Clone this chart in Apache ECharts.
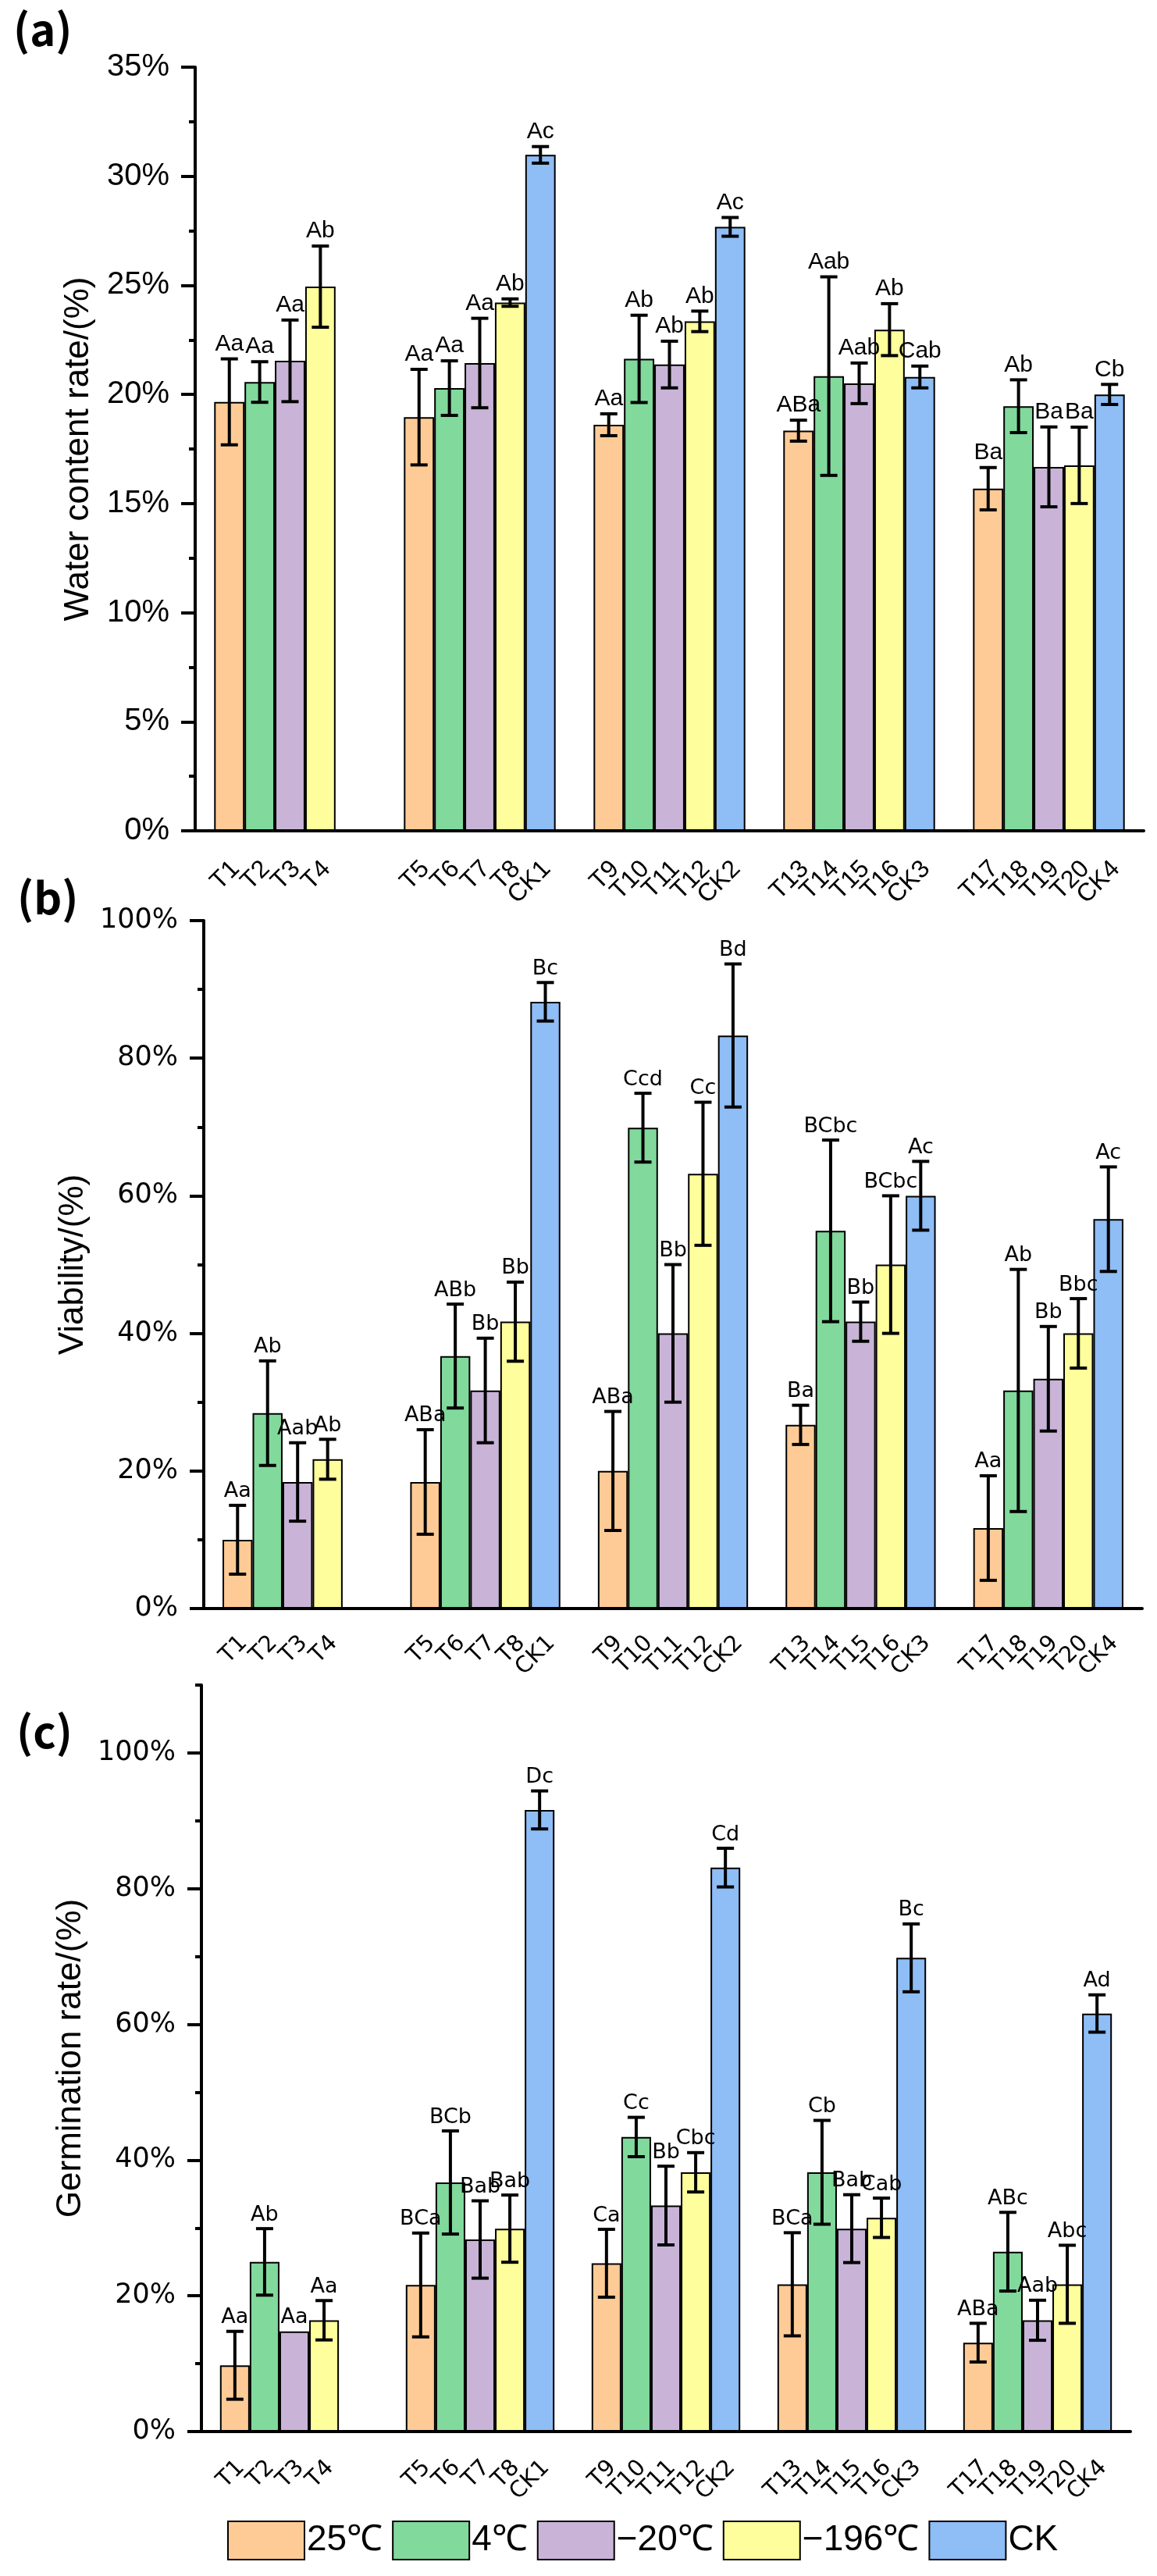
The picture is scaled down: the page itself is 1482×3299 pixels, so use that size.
<!DOCTYPE html>
<html>
<head>
<meta charset="utf-8">
<script src="https://cdn.jsdelivr.net/npm/echarts@6/dist/echarts.min.js"></script>
<style>
  html, body { margin: 0; padding: 0; background: #fff; }
  #chart { width: 1482px; height: 3299px; }
</style>
</head>
<body>
<div id="chart"></div>
<script>
// treatment series and group slots
const seriesNames = ['25℃', '4℃', '−20℃', '−196℃', 'CK'];
const groupNames = ['G1', 'G2', 'G3', 'G4', 'G5'];
// bar labels, rows = series, cols = group
const treatLabels = [
    ['T1', 'T5', 'T9', 'T13', 'T17'],
    ['T2', 'T6', 'T10', 'T14', 'T18'],
    ['T3', 'T7', 'T11', 'T15', 'T19'],
    ['T4', 'T8', 'T12', 'T16', 'T20'],
    [null, 'CK1', 'CK2', 'CK3', 'CK4']
];

// (a) water content rate, %
const waterMean = [
    [19.66, 18.96, 18.61, 18.34, 15.68],
    [20.57, 20.29, 21.63, 20.84, 19.46],
    [21.54, 21.44, 21.37, 20.51, 16.68],
    [24.94, 24.21, 23.35, 22.97, 16.75],
    [null, 30.98, 27.68, 20.80, 20.00]
];
const waterErr = [
    [1.97, 2.19, 0.50, 0.48, 0.97],
    [0.93, 1.25, 2.00, 4.55, 1.21],
    [1.87, 2.05, 1.07, 0.93, 1.83],
    [1.86, 0.17, 0.47, 1.19, 1.75],
    [null, 0.38, 0.43, 0.50, 0.46]
];
const waterSig = [
    ['Aa', 'Aa', 'Aa', 'ABa', 'Ba'],
    ['Aa', 'Aa', 'Ab', 'Aab', 'Ab'],
    ['Aa', 'Aa', 'Ab', 'Aab', 'Ba'],
    ['Ab', 'Ab', 'Ab', 'Ab', 'Ba'],
    [null, 'Ac', 'Ac', 'Cab', 'Cb']
];

// (b) viability, %
const viabMean = [
    [10.0, 18.4, 20.0, 26.7, 11.7],
    [28.4, 36.7, 69.9, 54.9, 31.7],
    [18.4, 31.7, 40.0, 41.7, 33.4],
    [21.7, 41.7, 63.2, 50.0, 40.0],
    [null, 88.2, 83.3, 60.0, 56.6]
];
const viabErr = [
    [5.0, 7.6, 8.65, 2.85, 7.6],
    [7.6, 7.55, 5.0, 13.2, 17.6],
    [5.7, 7.6, 10.0, 2.85, 7.6],
    [2.9, 5.75, 10.4, 10.0, 5.05],
    [null, 2.8, 10.4, 5.0, 7.6]
];
const viabSig = [
    ['Aa', 'ABa', 'ABa', 'Ba', 'Aa'],
    ['Ab', 'ABb', 'Ccd', 'BCbc', 'Ab'],
    ['Aab', 'Bb', 'Bb', 'Bb', 'Bb'],
    ['Ab', 'Bb', 'Cc', 'BCbc', 'Bbc'],
    [null, 'Bc', 'Bd', 'Ac', 'Ac']
];

// (c) germination rate, %
const germMean = [
    [9.76, 21.6, 24.8, 21.7, 13.1],
    [25.0, 36.7, 43.4, 38.2, 26.5],
    [14.76, 28.3, 33.3, 29.9, 16.4],
    [16.4, 29.9, 38.2, 31.5, 21.7],
    [null, 91.6, 83.1, 69.8, 61.6]
];
const germErr = [
    [5.0, 7.65, 5.0, 7.6, 2.85],
    [4.9, 7.6, 2.9, 7.65, 5.8],
    [0, 5.7, 5.8, 5.0, 2.95],
    [2.9, 4.95, 2.9, 2.9, 5.75],
    [null, 2.8, 2.85, 5.0, 2.75]
];
const germSig = [
    ['Aa', 'BCa', 'Ca', 'BCa', 'ABa'],
    ['Ab', 'BCb', 'Cc', 'Cb', 'ABc'],
    ['Aa', 'Bab', 'Bb', 'Bab', 'Aab'],
    ['Aa', 'Bab', 'Cbc', 'Cab', 'Abc'],
    [null, 'Dc', 'Cd', 'Bc', 'Ad']
];

// y tick labels
const waterTicks = [0, 5, 10, 15, 20, 25, 30, 35];
const pctTicks = [0, 20, 40, 60, 80, 100];

const colors = ['#FECB96', '#81D99C', '#C9B4D8', '#FEFE9C', '#8FBDF5'];

const panels = [
    {tag: '(a)', name: 'Water content rate/(%)', mean: waterMean, err: waterErr, sig: waterSig,
     ticks: waterTicks, max: 35, step: 2.5, labelStep: 5,
     top: 86, height: 978, left: 250, right: 17, nameGap: 127,
     tickFont: 'Liberation Sans', tickSize: 40, sigFont: 'Liberation Sans', sigSize: 30,
     xlFont: 'Liberation Sans', xlSize: 32, xlDx: 8, xlDy: 44, tagLeft: 17, tagTop: 10},
    {tag: '(b)', name: 'Viability/(%)', mean: viabMean, err: viabErr, sig: viabSig,
     ticks: pctTicks, max: 100, step: 10, labelStep: 20,
     top: 1179, height: 881, left: 261, right: 19, nameGap: 145,
     tickFont: 'DejaVu Sans', tickSize: 35, sigFont: 'DejaVu Sans', sigSize: 27,
     xlFont: 'DejaVu Sans', xlSize: 29, xlDx: 8, xlDy: 40, tagLeft: 22, tagTop: 1122},
    {tag: '(c)', name: 'Germination rate/(%)', mean: germMean, err: germErr, sig: germSig,
     ticks: pctTicks, max: 110, step: 10, labelStep: 20,
     top: 2158, height: 956, left: 258, right: 34, nameGap: 145,
     tickFont: 'DejaVu Sans', tickSize: 35, sigFont: 'DejaVu Sans', sigSize: 27,
     xlFont: 'DejaVu Sans', xlSize: 29, xlDx: 8, xlDy: 42, tagLeft: 21, tagTop: 2190}
];

let chart = echarts.init(document.getElementById('chart'));

let grids = [], xAxes = [], yAxes = [], series = [], graphics = [];

panels.forEach(function (p, k) {
    grids.push({left: p.left, right: p.right, top: p.top, height: p.height, containLabel: false});

    // main x axis with long ticks at group centres
    xAxes.push({
        type: 'category', gridIndex: k, data: groupNames,
        axisLine: {lineStyle: {color: '#000', width: 4}},
        axisTick: {alignWithLabel: true, length: 17, lineStyle: {color: '#000', width: 4}},
        axisLabel: {show: false}
    });
    // short ticks at group boundaries
    xAxes.push({
        type: 'category', gridIndex: k, data: groupNames, position: 'bottom',
        axisLine: {show: false},
        axisTick: {length: 8, lineStyle: {color: '#000', width: 4}},
        axisLabel: {show: false}
    });

    yAxes.push({
        type: 'value', gridIndex: k, min: 0, max: p.max, interval: p.step,
        name: p.name, nameLocation: 'middle', nameGap: p.nameGap,
        nameTextStyle: {fontFamily: 'Liberation Sans', fontSize: 44, color: '#000'},
        splitLine: {show: false},
        axisLine: {show: true, lineStyle: {color: '#000', width: 4}},
        axisTick: {show: true, length: 8, lineStyle: {color: '#000', width: 4}},
        axisLabel: {
            customValues: p.ticks, margin: 33,
            fontFamily: p.tickFont, fontSize: p.tickSize, color: '#000',
            formatter: function (v) { return p.ticks.indexOf(v) >= 0 ? v + '%' : ''; }
        }
    });
    yAxes.push({
        type: 'value', gridIndex: k, min: 0, max: p.max, interval: p.labelStep, position: 'left',
        splitLine: {show: false},
        axisLine: {show: false},
        axisTick: {show: true, customValues: p.ticks, length: 18, lineStyle: {color: '#000', width: 4}},
        axisLabel: {show: false}
    });

    seriesNames.forEach(function (nm, s) {
        series.push({
            type: 'bar', name: nm, xAxisIndex: 2 * k, yAxisIndex: 2 * k,
            data: p.mean[s], barGap: '0%', barCategoryGap: '20%',
            itemStyle: {color: colors[s], borderColor: '#000', borderWidth: 2},
            emphasis: {disabled: true}
        });
    });

    // error bars, significance letters and bar labels
    let items = [];
    p.mean.forEach(function (row, s) {
        row.forEach(function (m, g) {
            if (m === null) return;
            items.push({g: g, s: s, m: m, e: p.err[s][g], sig: p.sig[s][g], label: treatLabels[s][g]});
        });
    });
    series.push({
        type: 'custom', xAxisIndex: 2 * k, yAxisIndex: 2 * k, z: 5, silent: true, clip: false,
        data: items.map(function (it) { return [it.g, it.m]; }),
        encode: {x: 0, y: 1},
        renderItem: function (params, api) {
            const it = items[params.dataIndex];
            const bw = api.size([1, 0])[0] * 0.8 / 5;
            const c0 = api.coord([it.g, 0]);
            const cx = c0[0] + (it.s - 2) * bw;
            const yTop = api.coord([it.g, it.m + it.e])[1];
            const yBot = api.coord([it.g, it.m - it.e])[1];
            const st = {stroke: '#000', lineWidth: 4};
            let children = [];
            if (it.e > 0) {
                children.push({type: 'line', shape: {x1: cx, y1: yTop, x2: cx, y2: yBot}, style: st});
                children.push({type: 'line', shape: {x1: cx - 11, y1: yTop, x2: cx + 11, y2: yTop}, style: st});
                children.push({type: 'line', shape: {x1: cx - 11, y1: yBot, x2: cx + 11, y2: yBot}, style: st});
            }
            children.push({
                type: 'text', x: cx, y: yTop - 4,
                style: {text: it.sig, fill: '#000', fontFamily: p.sigFont, fontSize: p.sigSize,
                        align: 'center', verticalAlign: 'bottom'}
            });
            children.push({
                type: 'text', x: cx + p.xlDx, y: c0[1] + p.xlDy, rotation: Math.PI / 4,
                style: {text: it.label, fill: '#000', fontFamily: p.xlFont, fontSize: p.xlSize,
                        align: 'right', verticalAlign: 'middle'}
            });
            return {type: 'group', children: children};
        }
    });

    graphics.push({
        type: 'text', left: p.tagLeft, top: p.tagTop,
        style: {text: p.tag, fill: '#000', fontFamily: 'Noto Sans CJK SC', fontWeight: 'bold', fontSize: 56}
    });
});

let option = {
    animation: false,
    backgroundColor: '#fff',
    grid: grids,
    xAxis: xAxes,
    yAxis: yAxes,
    legend: {
        data: seriesNames, left: 286, top: 3223, icon: 'rect',
        itemWidth: 98, itemHeight: 49, itemGap: 12,
        textStyle: {fontFamily: 'Liberation Sans', fontSize: 46, color: '#000', padding: [0, 0, 0, -2]}
    },
    graphic: graphics,
    series: series
};
chart.setOption(option);
</script>
</body>
</html>
